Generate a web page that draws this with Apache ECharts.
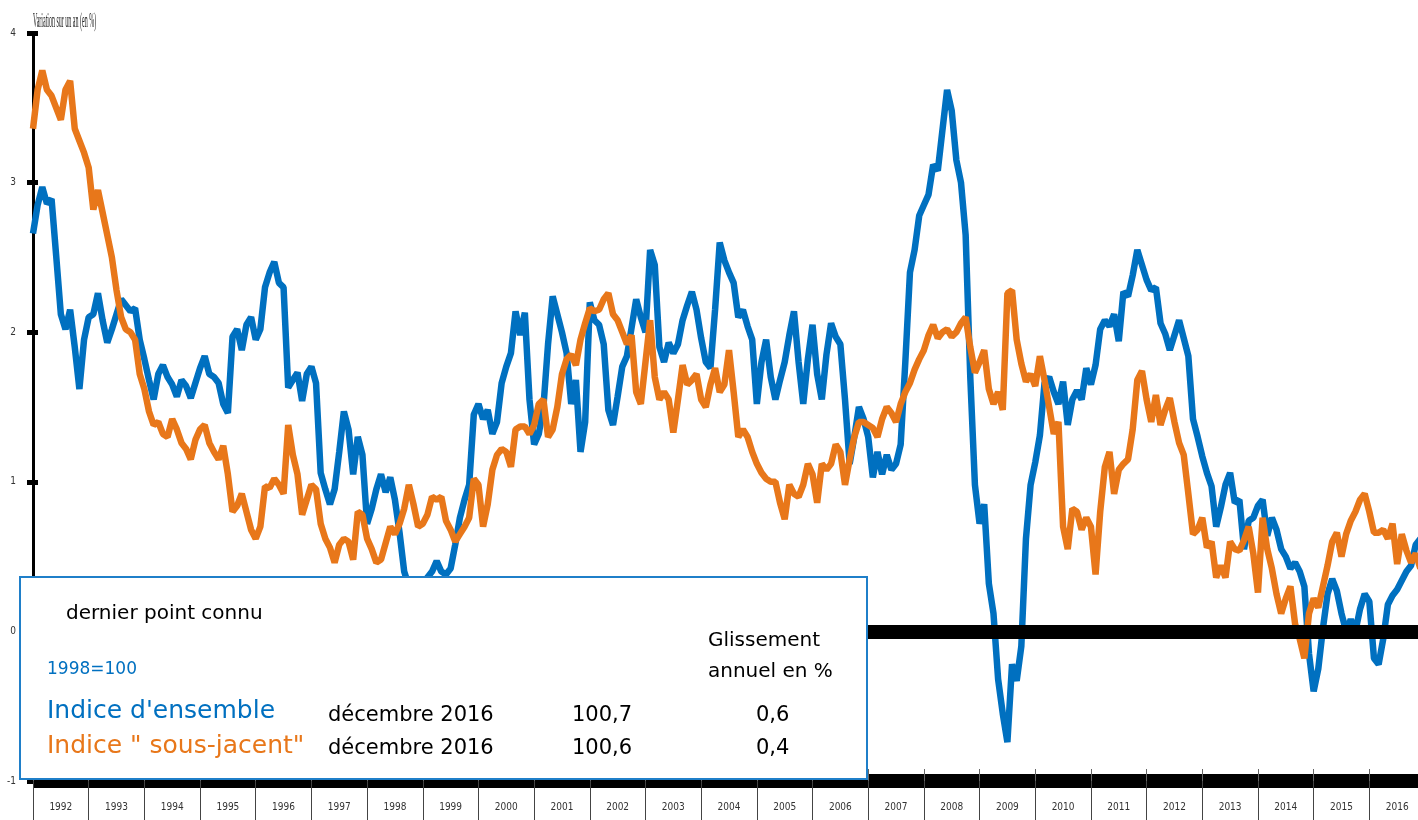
<!DOCTYPE html>
<html>
<head>
<meta charset="utf-8">
<script src="https://cdn.jsdelivr.net/npm/echarts@6/dist/echarts.min.js"></script>
<style>
  html, body { margin: 0; padding: 0; background: #fff; }
  #chart { width: 1418px; height: 820px; }
</style>
</head>
<body>
<div id="chart"></div>
<script>
// années (axe des x), une catégorie par an
const years = [1992, 1993, 1994, 1995, 1996, 1997, 1998, 1999, 2000, 2001, 2002, 2003,
  2004, 2005, 2006, 2007, 2008, 2009, 2010, 2011, 2012, 2013, 2014, 2015, 2016]

// glissement annuel mensuel, janvier 1992 -> décembre 2016
const ensemble = [
  2.66, 2.85, 2.97, 2.86, 2.89, 2.51, 2.12, 2.02, 2.15, 1.90, 1.62, 1.95, // 1992
  2.10, 2.12, 2.26, 2.08, 1.93, 2.02, 2.12, 2.22, 2.18, 2.14, 2.16, 1.95, // 1993
  1.82, 1.68, 1.55, 1.72, 1.78, 1.70, 1.65, 1.57, 1.68, 1.64, 1.56, 1.66, // 1994
  1.76, 1.84, 1.72, 1.70, 1.66, 1.52, 1.46, 1.97, 2.02, 1.88, 2.05, 2.10, // 1995
  1.95, 2.02, 2.30, 2.40, 2.47, 2.33, 2.30, 1.63, 1.68, 1.73, 1.54, 1.72, // 1996
  1.77, 1.66, 1.06, 0.95, 0.85, 0.95, 1.20, 1.47, 1.35, 1.05, 1.30, 1.18, // 1997
  0.72, 0.82, 0.95, 1.05, 0.93, 1.03, 0.88, 0.66, 0.40, 0.30, 0.28, 0.30, // 1998
  0.32, 0.36, 0.40, 0.47, 0.40, 0.38, 0.42, 0.58, 0.76, 0.88, 0.98, 1.45, // 1999
  1.52, 1.42, 1.48, 1.32, 1.40, 1.66, 1.77, 1.86, 2.14, 1.98, 2.13, 1.55, // 2000
  1.25, 1.32, 1.50, 1.92, 2.24, 2.12, 2.00, 1.86, 1.52, 1.68, 1.20, 1.40, // 2001
  2.20, 2.08, 2.05, 1.92, 1.48, 1.38, 1.57, 1.77, 1.84, 2.03, 2.22, 2.10, // 2002
  2.00, 2.55, 2.45, 1.90, 1.80, 1.93, 1.86, 1.92, 2.08, 2.18, 2.27, 2.15, // 2003
  1.96, 1.80, 1.76, 2.15, 2.60, 2.48, 2.40, 2.33, 2.10, 2.15, 2.04, 1.95, // 2004
  1.52, 1.80, 1.95, 1.70, 1.55, 1.68, 1.80, 1.98, 2.14, 1.80, 1.52, 1.82, // 2005
  2.05, 1.72, 1.55, 1.85, 2.06, 1.97, 1.92, 1.55, 1.12, 1.30, 1.50, 1.42, // 2006
  1.30, 1.03, 1.20, 1.05, 1.18, 1.08, 1.12, 1.25, 1.80, 2.40, 2.55, 2.78, // 2007
  2.85, 2.92, 3.12, 3.08, 3.35, 3.62, 3.48, 3.15, 3.00, 2.65, 1.70, 0.98, // 2008
  0.72, 0.85, 0.32, 0.12, -0.32, -0.55, -0.74, -0.22, -0.33, -0.10, 0.62, 0.98, // 2009
  1.13, 1.31, 1.66, 1.70, 1.60, 1.52, 1.67, 1.38, 1.55, 1.61, 1.55, 1.76, // 2010
  1.65, 1.78, 2.02, 2.08, 2.04, 2.12, 1.94, 2.27, 2.24, 2.38, 2.55, 2.45, // 2011
  2.35, 2.28, 2.30, 2.06, 1.99, 1.88, 1.98, 2.08, 1.96, 1.84, 1.42, 1.30, // 2012
  1.17, 1.06, 0.97, 0.70, 0.83, 0.98, 1.06, 0.86, 0.88, 0.55, 0.74, 0.76, // 2013
  0.84, 0.88, 0.64, 0.76, 0.68, 0.55, 0.50, 0.42, 0.46, 0.40, 0.30, -0.15, // 2014
  -0.40, -0.25, 0.02, 0.25, 0.35, 0.27, 0.12, 0.00, 0.08, 0.00, 0.15, 0.25, // 2015
  0.20, -0.18, -0.22, -0.05, 0.18, 0.24, 0.28, 0.34, 0.40, 0.44, 0.58, 0.62  // 2016
]

const sousJacent = [
  3.36, 3.62, 3.75, 3.62, 3.58, 3.50, 3.42, 3.62, 3.68, 3.36, 3.28, 3.20, // 1992
  3.10, 2.82, 2.95, 2.80, 2.65, 2.50, 2.28, 2.10, 2.02, 2.00, 1.95, 1.72, // 1993
  1.62, 1.47, 1.38, 1.40, 1.32, 1.30, 1.42, 1.35, 1.26, 1.22, 1.15, 1.28, // 1994
  1.35, 1.38, 1.26, 1.20, 1.15, 1.24, 1.05, 0.80, 0.84, 0.92, 0.80, 0.68, // 1995
  0.62, 0.70, 0.97, 0.96, 1.02, 0.98, 0.92, 1.38, 1.18, 1.05, 0.78, 0.88, // 1996
  0.98, 0.95, 0.72, 0.62, 0.56, 0.46, 0.58, 0.62, 0.60, 0.48, 0.80, 0.78, // 1997
  0.62, 0.55, 0.46, 0.48, 0.59, 0.70, 0.65, 0.72, 0.82, 0.98, 0.85, 0.70, // 1998
  0.72, 0.78, 0.90, 0.88, 0.90, 0.74, 0.68, 0.60, 0.65, 0.70, 0.76, 1.02, // 1999
  0.98, 0.70, 0.85, 1.08, 1.18, 1.22, 1.20, 1.10, 1.35, 1.37, 1.37, 1.32, // 2000
  1.38, 1.52, 1.55, 1.30, 1.35, 1.50, 1.72, 1.82, 1.85, 1.78, 1.95, 2.06, // 2001
  2.16, 2.14, 2.15, 2.22, 2.26, 2.12, 2.08, 2.00, 1.92, 1.98, 1.60, 1.52, // 2002
  1.80, 2.08, 1.70, 1.55, 1.60, 1.55, 1.33, 1.55, 1.78, 1.65, 1.68, 1.72, // 2003
  1.55, 1.50, 1.65, 1.76, 1.60, 1.65, 1.88, 1.60, 1.30, 1.35, 1.30, 1.20, // 2004
  1.12, 1.06, 1.02, 1.00, 1.00, 0.86, 0.75, 0.98, 0.92, 0.90, 0.98, 1.12, // 2005
  1.05, 0.86, 1.12, 1.08, 1.12, 1.25, 1.20, 0.98, 1.15, 1.30, 1.40, 1.40, // 2006
  1.38, 1.36, 1.30, 1.42, 1.50, 1.46, 1.40, 1.52, 1.60, 1.66, 1.75, 1.82, // 2007
  1.88, 1.98, 2.05, 1.96, 2.00, 2.02, 1.97, 2.00, 2.06, 2.10, 1.90, 1.73, // 2008
  1.80, 1.88, 1.62, 1.52, 1.60, 1.48, 2.26, 2.28, 1.95, 1.79, 1.67, 1.72, // 2009
  1.64, 1.84, 1.68, 1.50, 1.32, 1.40, 0.70, 0.55, 0.82, 0.80, 0.68, 0.76, // 2010
  0.70, 0.38, 0.80, 1.10, 1.20, 0.92, 1.08, 1.12, 1.15, 1.35, 1.68, 1.74, // 2011
  1.55, 1.40, 1.58, 1.38, 1.48, 1.56, 1.40, 1.26, 1.18, 0.92, 0.65, 0.68, // 2012
  0.76, 0.56, 0.60, 0.36, 0.44, 0.36, 0.60, 0.55, 0.54, 0.61, 0.70, 0.52, // 2013
  0.26, 0.76, 0.55, 0.42, 0.25, 0.12, 0.22, 0.30, 0.05, -0.05, -0.18, 0.12, // 2014
  0.22, 0.16, 0.30, 0.44, 0.60, 0.66, 0.50, 0.65, 0.74, 0.80, 0.88, 0.92, // 2015
  0.80, 0.66, 0.66, 0.68, 0.62, 0.72, 0.45, 0.65, 0.54, 0.46, 0.52, 0.42  // 2016
]

// tableau "dernier point connu"
const dernierMois = ["décembre 2016", "décembre 2016"]
const indices = ["100,7", "100,6"]
const glissements = ["0,6", "0,4"]

const BLUE = "#0070c0"
const ORANGE = "#e8771a"
const TXT = "DejaVu Sans"
const NARROW = '"Liberation Sans Narrow", "DejaVu Sans Condensed", sans-serif'

const toPoints = (arr) => arr.map((v, i) => [i, v])

// texte du cartouche, au-dessus de tout
const txt = (text, x, y, size, color) => ({
  type: "text",
  x: x,
  y: y,
  z: 101,
  style: {
    text: text,
    font: size + "px " + TXT,
    fill: color || "#000",
    textVerticalAlign: "middle"
  }
})

const chart = echarts.init(document.getElementById("chart"))
const options = {
  animation: false,
  grid: {
    left: 33,
    top: 33,
    width: 1392,
    height: 748,
    containLabel: false,
    outerBoundsMode: "none"
  },
  xAxis: [
    {
      type: "value",
      min: 0,
      max: 300,
      interval: 12,
      position: "bottom",
      axisLine: { show: true, onZero: false, lineStyle: { color: "#000", width: 14, cap: "butt" } },
      axisTick: { show: true, inside: true, length: 12, lineStyle: { color: "#666", width: 1 } },
      axisLabel: { show: false },
      splitLine: { show: false }
    },
    {
      type: "category",
      data: years,
      boundaryGap: true,
      position: "bottom",
      axisLine: { show: false, onZero: false },
      axisTick: { show: true, length: 40, lineStyle: { color: "#444", width: 1 } },
      axisLabel: { margin: 21, fontSize: 10, fontFamily: NARROW, color: "#333" },
      splitLine: { show: false }
    }
  ],
  yAxis: [
    {
      type: "value",
      min: -1,
      max: 4,
      interval: 1,
      position: "left",
      axisLine: { show: true, onZero: false, lineStyle: { color: "#000", width: 3, cap: "butt" } },
      axisTick: { show: true, length: 6, lineStyle: { color: "#000", width: 5 } },
      axisLabel: { margin: 17, fontSize: 10, fontFamily: NARROW, color: "#333" },
      splitLine: { show: false }
    },
    {
      type: "value",
      min: -1,
      max: 4,
      interval: 1,
      position: "left",
      axisLine: { show: false, onZero: false },
      axisTick: { show: true, inside: true, length: 5, lineStyle: { color: "#000", width: 5 } },
      axisLabel: { show: false },
      splitLine: { show: false }
    }
  ],
  series: [
    {
      // trait épais du zéro
      type: "line",
      data: [],
      z: 1,
      silent: true,
      markLine: {
        silent: true,
        symbol: "none",
        label: { show: false },
        lineStyle: { color: "#000", width: 14, type: "solid", cap: "butt" },
        data: [{ yAxis: 0 }]
      }
    },
    {
      name: "Indice d'ensemble",
      type: "line",
      data: toPoints(ensemble),
      showSymbol: false,
      z: 3,
      lineStyle: { color: BLUE, width: 6.5 },
      itemStyle: { color: BLUE }
    },
    {
      name: 'Indice " sous-jacent"',
      type: "line",
      data: toPoints(sousJacent),
      showSymbol: false,
      z: 4,
      lineStyle: { color: ORANGE, width: 6.5 },
      itemStyle: { color: ORANGE }
    }
  ],
  graphic: [
    {
      type: "text",
      x: 33,
      y: 22,
      scaleX: 0.3,
      style: {
        text: "Variation sur un an (en %)",
        font: '20px "Liberation Sans Narrow"',
        fill: "#222",
        textVerticalAlign: "middle"
      }
    },
    {
      type: "rect",
      z: 100,
      shape: { x: 20, y: 577, width: 847, height: 202 },
      style: { fill: "#fff", stroke: "#1f7fc9", lineWidth: 2 }
    },
    txt("dernier point connu", 66, 614, 20),
    txt("1998=100", 47, 670, 17, BLUE),
    txt("Glissement", 708, 641, 20),
    txt("annuel en %", 708, 672, 20),
    txt("Indice d'ensemble", 47, 711, 25, BLUE),
    txt('Indice " sous-jacent"', 47, 746, 25, ORANGE),
    txt(dernierMois[0], 328, 716, 21),
    txt(dernierMois[1], 328, 749, 21),
    txt(indices[0], 572, 716, 21),
    txt(indices[1], 572, 749, 21),
    txt(glissements[0], 756, 716, 21),
    txt(glissements[1], 756, 749, 21)
  ]
}
chart.setOption(options)
</script>
</body>
</html>
